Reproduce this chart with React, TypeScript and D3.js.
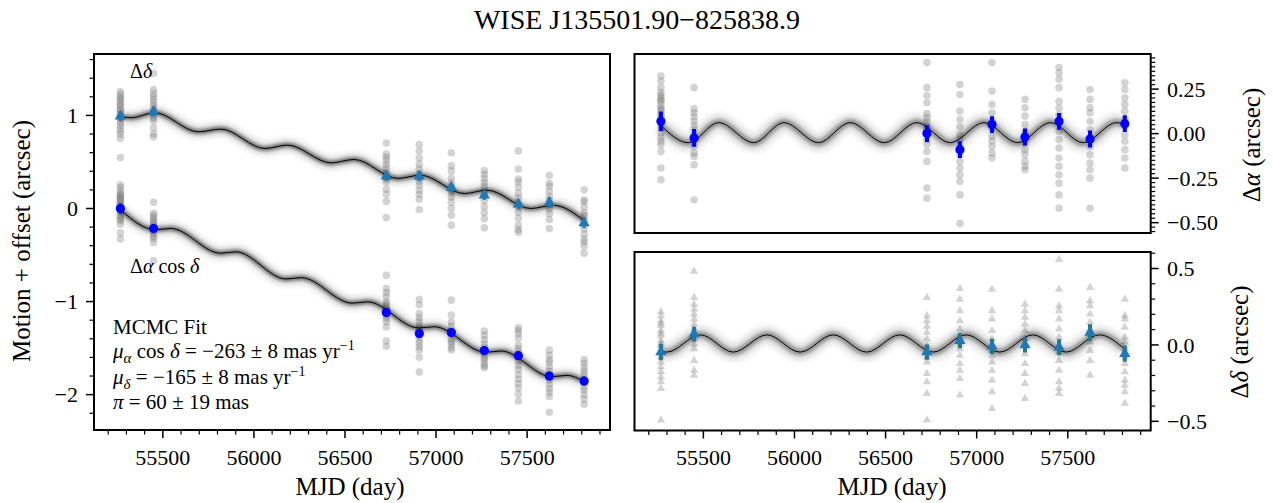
import React from "react";
import * as d3 from "d3";

const FONT = "'Liberation Serif', 'Times New Roman', serif";

// ---------- data ----------
const epochMJD = [55267, 55449, 56727, 56908, 57084, 57265, 57452, 57622, 57813];

// residual (parallax) means and errors, arcsec
const raResMean = [0.069, -0.024, 0.0, -0.09, 0.051, -0.019, 0.069, -0.03, 0.056];
const raResErr = [0.055, 0.05, 0.047, 0.047, 0.047, 0.048, 0.047, 0.048, 0.047];
const decResMean = [-0.047, 0.071, -0.047, 0.028, -0.009, 0.0, -0.015, 0.082, -0.058];
const decResErr = [0.054, 0.048, 0.05, 0.05, 0.05, 0.05, 0.052, 0.054, 0.052];

// motion + offset means (left panel)
const raMotionMean = [0.0, -0.215, -1.118, -1.344, -1.333, -1.527, -1.581, -1.8, -1.854];
const decMotionMean = [0.992, 1.039, 0.347, 0.347, 0.226, 0.143, 0.046, 0.065, -0.155];

// individual residual measurements per epoch
const raResPoints = [
  [0.323, 0.295, 0.258, 0.23, 0.215, 0.202, 0.19, 0.182, 0.164, 0.145, 0.135, 0.126, 0.107, 0.098, 0.079, 0.07, 0.051, 0.032, 0.004, -0.024, -0.043, -0.062, -0.1, -0.193, -0.259],
  [0.258, 0.139, 0.117, 0.094, 0.069, 0.045, 0.023, -0.006, -0.034, -0.072, -0.109, -0.128, -0.175, -0.372],
  [0.399, 0.258, 0.214, 0.173, 0.113, 0.09, 0.064, 0.04, 0.023, -0.034, -0.06, -0.1, -0.156, -0.306, -0.363],
  [0.276, 0.22, 0.126, 0.079, 0.038, -0.006, -0.034, -0.072, -0.118, -0.156, -0.193, -0.231, -0.269, -0.344, -0.504],
  [0.399, 0.239, 0.164, 0.117, 0.069, 0.032, -0.015, -0.043, -0.072, -0.109, -0.137],
  [0.192, 0.145, 0.098, 0.051, 0.013, -0.015, -0.052, -0.09, -0.118, -0.156, -0.184, -0.203],
  [0.371, 0.342, 0.305, 0.258, 0.182, 0.145, 0.107, 0.06, 0.013, -0.034, -0.081, -0.137, -0.184, -0.231, -0.278, -0.344, -0.419],
  [0.248, 0.192, 0.145, 0.117, 0.069, 0.023, -0.034, -0.072, -0.118, -0.165, -0.203, -0.25, -0.419],
  [0.286, 0.248, 0.201, 0.164, 0.126, 0.079, 0.041, -0.006, -0.043, -0.09, -0.137, -0.193],
];
const decResPoints = [
  [0.216, 0.19, 0.158, 0.14, 0.125, 0.093, 0.075, 0.06, 0.028, 0.01, -0.005, -0.03, -0.047, -0.08, -0.112, -0.145, -0.177, -0.21, -0.242, -0.286, -0.492],
  [0.482, 0.31, 0.266, 0.234, 0.201, 0.169, 0.136, 0.104, 0.071, 0.039, 0.006, -0.026, -0.102, -0.167, -0.199],
  [0.31, 0.19, 0.158, 0.121, 0.082, 0.039, -0.005, -0.047, -0.08, -0.112, -0.188, -0.242, -0.318, -0.492],
  [0.368, 0.299, 0.223, 0.158, 0.104, 0.05, 0.006, -0.026, -0.069, -0.123, -0.167, -0.221, -0.329],
  [0.364, 0.223, 0.169, 0.093, 0.039, -0.005, -0.037, -0.069, -0.112, -0.167, -0.232, -0.307, -0.416],
  [0.266, 0.223, 0.18, 0.136, 0.093, 0.039, -0.005, -0.058, -0.123, -0.188, -0.253, -0.351],
  [0.558, 0.364, 0.255, 0.223, 0.169, 0.104, 0.05, -0.005, -0.047, -0.102, -0.167, -0.242, -0.286, -0.318],
  [0.375, 0.288, 0.255, 0.201, 0.147, 0.104, 0.06, 0.018, -0.037, -0.102, -0.199],
  [0.299, 0.19, 0.169, 0.115, 0.05, 0.018, -0.026, -0.08, -0.123, -0.177, -0.232, -0.264, -0.307, -0.383],
];

// model curves, knots
const raResKnotMJD = [55267, 55418, 55584, 55776, 55942, 56132, 56305, 56493, 56671, 56855, 57040, 57225, 57405, 57585, 57768, 57813];
const raResKnotVal = [0.045, -0.051, 0.062, -0.051, 0.062, -0.051, 0.062, -0.051, 0.062, -0.051, 0.062, -0.051, 0.062, -0.051, 0.062, 0.048];
const decResKnotMJD = [55267, 55299, 55484, 55664, 55849, 56031, 56213, 56396, 56578, 56761, 56943, 57126, 57308, 57491, 57673, 57813];
const decResKnotVal = [-0.044, -0.047, 0.066, -0.047, 0.066, -0.047, 0.066, -0.047, 0.066, -0.047, 0.066, -0.047, 0.066, -0.047, 0.066, -0.028];
const raMotionKnotMJD = [55267, 55459, 55543, 55817, 55901, 56176, 56260, 56540, 56624, 56906, 56990, 57273, 57357, 57635, 57719, 57813];
const raMotionKnotVal = [-0.015, -0.228, -0.214, -0.48, -0.466, -0.757, -0.743, -1.017, -1.003, -1.284, -1.27, -1.545, -1.531, -1.807, -1.793, -1.86];
const decMotionKnotMJD = [55267, 55330, 55454, 55695, 55819, 56060, 56184, 56425, 56549, 56790, 56914, 57155, 57279, 57520, 57644, 57813];
const decMotionKnotVal = [0.989, 0.975, 1.03, 0.824, 0.853, 0.645, 0.681, 0.49, 0.527, 0.323, 0.358, 0.161, 0.197, 0.0, 0.035, -0.13];

// ticks
const xMajorTicks = [55500, 56000, 56500, 57000, 57500];
const leftYTicks = [-2, -1, 0, 1];
const raYTicks = [-0.5, -0.25, 0, 0.25];
const decYTicks = [-0.5, 0, 0.5];

// ---------- layout ----------
const X_DOMAIN: [number, number] = [55122, 57955];
const PL = { x0: 94, x1: 610, y0: 54, y1: 430 };
const PRT = { x0: 634.5, x1: 1150.7, y0: 54, y1: 233 };
const PRB = { x0: 634.5, x1: 1150.7, y0: 252, y1: 430.5 };

const minus = (s: string) => s.replace("-", "\u2212");
const TAB_BLUE = "#1f77b4";
const BLUE = "#0000ff";
const GRAY = "#808080";

function knots(t: number[], v: number[]) {
  return t.map((d, i) => [d, v[i]] as [number, number]);
}

function Band({ d, wide }: { d: string; wide: boolean }) {
  return (
    <g>
      <path d={d} fill="none" stroke="#000" strokeOpacity={wide ? 0.14 : 0.18} strokeWidth={wide ? 16 : 11} filter="url(#blurL)" />
      <path d={d} fill="none" stroke="#000" strokeOpacity={wide ? 0.3 : 0.45} strokeWidth={wide ? 7 : 5} filter="url(#blurS)" />
      <path d={d} fill="none" stroke="#000" strokeWidth={1} />
    </g>
  );
}

function Frame({ p }: { p: { x0: number; x1: number; y0: number; y1: number } }) {
  return <rect x={p.x0} y={p.y0} width={p.x1 - p.x0} height={p.y1 - p.y0} fill="none" stroke="#000" strokeWidth={2} />;
}

export default function App() {
  const xL = d3.scaleLinear().domain(X_DOMAIN).range([PL.x0, PL.x1]);
  const xR = d3.scaleLinear().domain(X_DOMAIN).range([PRT.x0, PRT.x1]);
  const yL = d3.scaleLinear().domain([1.66, -2.38]).range([PL.y0, PL.y1]);
  const yRT = d3.scaleLinear().domain([0.447, -0.558]).range([PRT.y0, PRT.y1]);
  const yRB = d3.scaleLinear().domain([0.608, -0.56]).range([PRB.y0, PRB.y1]);

  const lineL = d3.line<[number, number]>().x((d) => xL(d[0])).y((d) => yL(d[1])).curve(d3.curveMonotoneX);
  const lineRT = d3.line<[number, number]>().x((d) => xR(d[0])).y((d) => yRT(d[1])).curve(d3.curveMonotoneX);
  const lineRB = d3.line<[number, number]>().x((d) => xR(d[0])).y((d) => yRB(d[1])).curve(d3.curveMonotoneX);

  const raMotionPath = lineL(knots(raMotionKnotMJD, raMotionKnotVal)) || "";
  const decMotionPath = lineL(knots(decMotionKnotMJD, decMotionKnotVal)) || "";
  const raResPath = lineRT(knots(raResKnotMJD, raResKnotVal)) || "";
  const decResPath = lineRB(knots(decResKnotMJD, decResKnotVal)) || "";

  const xMinor = d3.range(55200, 57951, 100).filter((v) => v % 500 !== 0);
  const leftMinor = d3.range(-11, 9).map((i) => i * 0.2).filter((v) => Math.abs(v - Math.round(v)) > 1e-6 && v > -2.38 && v < 1.66);
  const raMinor = d3.range(-22, 18).map((i) => i * 0.025).filter((v) => Math.abs(v / 0.25 - Math.round(v / 0.25)) > 1e-6 && v > -0.558 && v < 0.447);
  const decMinor = d3.range(-5, 7).map((i) => i * 0.1).filter((v) => Math.abs(v / 0.5 - Math.round(v / 0.5)) > 1e-6 && v > -0.56 && v < 0.608);

  const triSmall = d3.symbol().type(d3.symbolTriangle).size(30)() || "";
  const triBig = d3.symbol().type(d3.symbolTriangle).size(55)() || "";

  const tickLabelSize = 22;
  const axisLabelSize = 25;

  return (
    <svg width={1274} height={503} style={{ position: "absolute", left: 0, top: 0, background: "#fff" }} fontFamily={FONT}>
      <defs>
        <filter id="blurS" filterUnits="userSpaceOnUse" x="0" y="0" width="1274" height="503">
          <feGaussianBlur stdDeviation="1.6" />
        </filter>
        <filter id="blurL" filterUnits="userSpaceOnUse" x="0" y="0" width="1274" height="503">
          <feGaussianBlur stdDeviation="3" />
        </filter>
        <clipPath id="clipL"><rect x={PL.x0} y={PL.y0} width={PL.x1 - PL.x0} height={PL.y1 - PL.y0} /></clipPath>
        <clipPath id="clipRT"><rect x={PRT.x0} y={PRT.y0} width={PRT.x1 - PRT.x0} height={PRT.y1 - PRT.y0} /></clipPath>
        <clipPath id="clipRB"><rect x={PRB.x0} y={PRB.y0} width={PRB.x1 - PRB.x0} height={PRB.y1 - PRB.y0} /></clipPath>
      </defs>
      <rect x={0} y={0} width={1274} height={503} fill="#fff" />

      {/* title */}
      <text x={637} y={29} textAnchor="middle" fontSize={28}>WISE J135501.90{"\u2212"}825838.9</text>

      {/* ---------- LEFT PANEL ---------- */}
      <g clipPath="url(#clipL)">
        {epochMJD.map((t, i) =>
          raResPoints[i].map((p, j) => (
            <circle key={`la${i}-${j}`} cx={xL(t)} cy={yL(p - raResMean[i] + raMotionMean[i])} r={3.8} fill={GRAY} fillOpacity={0.35} />
          ))
        )}
        {epochMJD.map((t, i) =>
          decResPoints[i].map((p, j) => (
            <circle key={`ld${i}-${j}`} cx={xL(t)} cy={yL(p - decResMean[i] + decMotionMean[i])} r={3.8} fill={GRAY} fillOpacity={0.35} />
          ))
        )}
        <Band d={decMotionPath} wide={false} />
        <Band d={raMotionPath} wide={false} />
        {epochMJD.map((t, i) => (
          <g key={`lm${i}`}>
            <line x1={xL(t)} x2={xL(t)} y1={yL(raMotionMean[i] - raResErr[i])} y2={yL(raMotionMean[i] + raResErr[i])} stroke={BLUE} strokeWidth={3} />
            <circle cx={xL(t)} cy={yL(raMotionMean[i])} r={4.6} fill={BLUE} />
            <line x1={xL(t)} x2={xL(t)} y1={yL(decMotionMean[i] - decResErr[i])} y2={yL(decMotionMean[i] + decResErr[i])} stroke={TAB_BLUE} strokeWidth={3} />
            <path d={triBig} transform={`translate(${xL(t)},${yL(decMotionMean[i])})`} fill={TAB_BLUE} />
          </g>
        ))}
      </g>
      <Frame p={PL} />
      {/* left x ticks */}
      {xMajorTicks.map((v) => (
        <g key={`lxt${v}`}>
          <line x1={xL(v)} x2={xL(v)} y1={PL.y1} y2={PL.y1 + 8} stroke="#000" strokeWidth={1.5} />
          <text x={xL(v)} y={465} textAnchor="middle" fontSize={tickLabelSize}>{v}</text>
        </g>
      ))}
      {xMinor.map((v) => (
        <line key={`lxm${v}`} x1={xL(v)} x2={xL(v)} y1={PL.y1} y2={PL.y1 + 4.5} stroke="#000" strokeWidth={1.2} />
      ))}
      {leftYTicks.map((v) => (
        <g key={`lyt${v}`}>
          <line x1={PL.x0 - 8} x2={PL.x0} y1={yL(v)} y2={yL(v)} stroke="#000" strokeWidth={1.5} />
          <text x={78} y={yL(v)} dy="0.35em" textAnchor="end" fontSize={tickLabelSize}>{minus(d3.format("d")(v))}</text>
        </g>
      ))}
      {leftMinor.map((v) => (
        <line key={`lym${v.toFixed(2)}`} x1={PL.x0 - 4.5} x2={PL.x0} y1={yL(v)} y2={yL(v)} stroke="#000" strokeWidth={1.2} />
      ))}
      <text x={350} y={495} textAnchor="middle" fontSize={axisLabelSize}>MJD (day)</text>
      <text transform="translate(30,241) rotate(-90)" textAnchor="middle" fontSize={axisLabelSize}>Motion + offset (arcsec)</text>

      {/* left annotations */}
      <text x={130} y={78} fontSize={20}>
        {"\u0394"}<tspan fontStyle="italic">{"\u03b4"}</tspan>
      </text>
      <text x={130} y={273} fontSize={20}>
        {"\u0394"}<tspan fontStyle="italic">{"\u03b1"}</tspan> cos <tspan fontStyle="italic">{"\u03b4"}</tspan>
      </text>
      <g fontSize={21}>
        <text x={113} y={334}>MCMC Fit</text>
        <text x={113} y={358}>
          <tspan fontStyle="italic">{"\u03bc"}</tspan>
          <tspan fontStyle="italic" fontSize={15} dy={5}>{"\u03b1"}</tspan>
          <tspan dy={-5}> cos </tspan>
          <tspan fontStyle="italic">{"\u03b4"}</tspan>
          <tspan> = {"\u2212"}263 {"\u00b1"} 8 mas yr</tspan>
          <tspan fontSize={14} dy={-8}>{"\u2212"}1</tspan>
        </text>
        <text x={113} y={384}>
          <tspan fontStyle="italic">{"\u03bc"}</tspan>
          <tspan fontStyle="italic" fontSize={15} dy={5}>{"\u03b4"}</tspan>
          <tspan dy={-5}> = {"\u2212"}165 {"\u00b1"} 8 mas yr</tspan>
          <tspan fontSize={14} dy={-8}>{"\u2212"}1</tspan>
        </text>
        <text x={113} y={409}>
          <tspan fontStyle="italic">{"\u03c0"}</tspan>
          <tspan> = 60 {"\u00b1"} 19 mas</tspan>
        </text>
      </g>

      {/* ---------- RIGHT TOP PANEL ---------- */}
      <g clipPath="url(#clipRT)">
        {epochMJD.map((t, i) =>
          raResPoints[i].map((p, j) => (
            <circle key={`ra${i}-${j}`} cx={xR(t)} cy={yRT(p)} r={3.8} fill={GRAY} fillOpacity={0.35} />
          ))
        )}
        <Band d={raResPath} wide={true} />
        {epochMJD.map((t, i) => (
          <g key={`ram${i}`}>
            <line x1={xR(t)} x2={xR(t)} y1={yRT(raResMean[i] - raResErr[i])} y2={yRT(raResMean[i] + raResErr[i])} stroke={BLUE} strokeWidth={4} />
            <circle cx={xR(t)} cy={yRT(raResMean[i])} r={4.6} fill={BLUE} />
          </g>
        ))}
      </g>
      <Frame p={PRT} />
      {raYTicks.map((v) => (
        <g key={`rty${v}`}>
          <line x1={PRT.x1} x2={PRT.x1 + 8} y1={yRT(v)} y2={yRT(v)} stroke="#000" strokeWidth={1.5} />
          <text x={1167} y={yRT(v)} dy="0.35em" textAnchor="start" fontSize={tickLabelSize}>{minus(d3.format(".2f")(v))}</text>
        </g>
      ))}
      {raMinor.map((v) => (
        <line key={`rtm${v.toFixed(3)}`} x1={PRT.x1} x2={PRT.x1 + 4.5} y1={yRT(v)} y2={yRT(v)} stroke="#000" strokeWidth={1.2} />
      ))}
      <text transform="translate(1260,145) rotate(-90)" textAnchor="middle" fontSize={axisLabelSize}>
        {"\u0394"}<tspan fontStyle="italic">{"\u03b1"}</tspan> (arcsec)
      </text>

      {/* ---------- RIGHT BOTTOM PANEL ---------- */}
      <g clipPath="url(#clipRB)">
        {epochMJD.map((t, i) =>
          decResPoints[i].map((p, j) => (
            <path key={`rd${i}-${j}`} d={triSmall} transform={`translate(${xR(t)},${yRB(p)})`} fill={GRAY} fillOpacity={0.35} />
          ))
        )}
        <Band d={decResPath} wide={true} />
        {epochMJD.map((t, i) => (
          <g key={`rdm${i}`}>
            <line x1={xR(t)} x2={xR(t)} y1={yRB(decResMean[i] - decResErr[i])} y2={yRB(decResMean[i] + decResErr[i])} stroke="#23788a" strokeWidth={4} />
            <path d={triBig} transform={`translate(${xR(t)},${yRB(decResMean[i])})`} fill={TAB_BLUE} />
          </g>
        ))}
      </g>
      <Frame p={PRB} />
      {decYTicks.map((v) => (
        <g key={`rby${v}`}>
          <line x1={PRB.x1} x2={PRB.x1 + 8} y1={yRB(v)} y2={yRB(v)} stroke="#000" strokeWidth={1.5} />
          <text x={1167} y={yRB(v)} dy="0.35em" textAnchor="start" fontSize={tickLabelSize}>{minus(d3.format(".1f")(v))}</text>
        </g>
      ))}
      {decMinor.map((v) => (
        <line key={`rbm${v.toFixed(2)}`} x1={PRB.x1} x2={PRB.x1 + 4.5} y1={yRB(v)} y2={yRB(v)} stroke="#000" strokeWidth={1.2} />
      ))}
      {xMajorTicks.map((v) => (
        <g key={`rxt${v}`}>
          <line x1={xR(v)} x2={xR(v)} y1={PRB.y1} y2={PRB.y1 + 8} stroke="#000" strokeWidth={1.5} />
          <text x={xR(v)} y={465} textAnchor="middle" fontSize={tickLabelSize}>{v}</text>
        </g>
      ))}
      {xMinor.map((v) => (
        <line key={`rxm${v}`} x1={xR(v)} x2={xR(v)} y1={PRB.y1} y2={PRB.y1 + 4.5} stroke="#000" strokeWidth={1.2} />
      ))}
      <text transform="translate(1248,342) rotate(-90)" textAnchor="middle" fontSize={axisLabelSize}>
        {"\u0394"}<tspan fontStyle="italic">{"\u03b4"}</tspan> (arcsec)
      </text>
      <text x={892} y={495} textAnchor="middle" fontSize={axisLabelSize}>MJD (day)</text>
    </svg>
  );
}
